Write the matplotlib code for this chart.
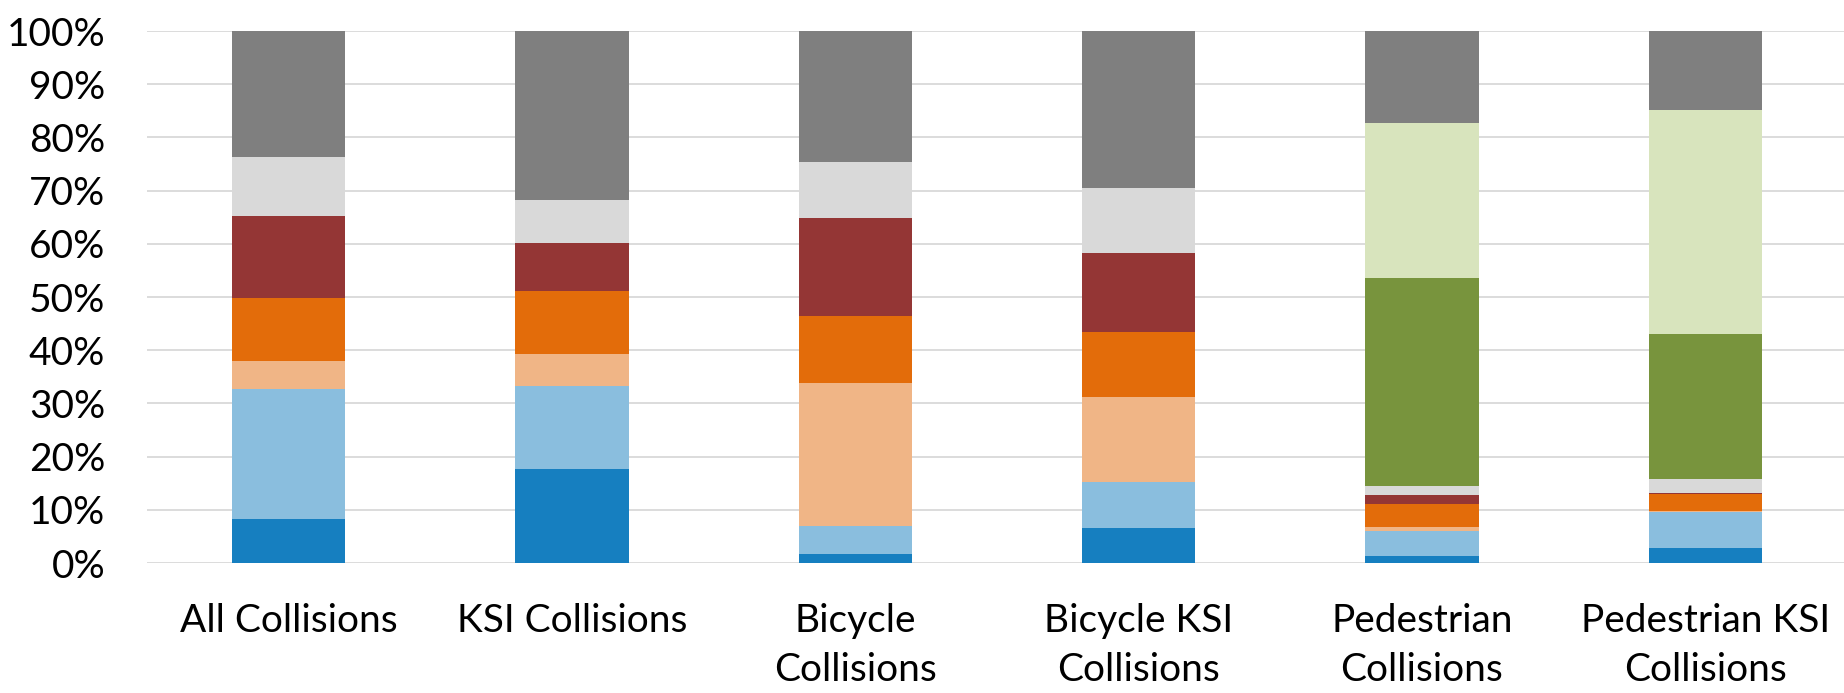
import matplotlib
matplotlib.use("Agg")
import matplotlib.pyplot as plt
import numpy as np
from matplotlib.ticker import PercentFormatter, MultipleLocator

plt.rcParams['font.family'] = ['Lato', 'DejaVu Sans']

categories = ["All Collisions", "KSI Collisions", "Bicycle\nCollisions",
              "Bicycle KSI\nCollisions", "Pedestrian\nCollisions",
              "Pedestrian KSI\nCollisions"]

# share of collisions (%) per segment, bottom to top
seg_dark_blue   = [8.3, 17.6, 1.6, 6.6, 1.4, 2.9]
seg_light_blue  = [24.5, 15.6, 5.4, 8.6, 4.7, 6.6]
seg_peach       = [5.1, 6.1, 26.9, 16.0, 0.7, 0.3]
seg_orange      = [11.9, 11.8, 12.5, 12.2, 4.3, 3.1]
seg_dark_red    = [15.5, 9.1, 18.4, 14.9, 1.6, 0.3]
seg_light_gray  = [11.0, 8.1, 10.5, 12.2, 1.8, 2.5]
seg_dark_green  = [0.0, 0.0, 0.0, 0.0, 39.1, 27.4]
seg_light_green = [0.0, 0.0, 0.0, 0.0, 29.1, 42.1]
seg_dark_gray   = [23.7, 31.7, 24.7, 29.5, 17.3, 14.8]

series = [
    (seg_dark_blue, "#167FC0"),
    (seg_light_blue, "#8ABEDE"),
    (seg_peach, "#F0B586"),
    (seg_orange, "#E36C0A"),
    (seg_dark_red, "#943635"),
    (seg_light_gray, "#D9D9D9"),
    (seg_dark_green, "#78943D"),
    (seg_light_green, "#D8E4BD"),
    (seg_dark_gray, "#7F7F7F"),
]

W, H = 1844, 693
fig = plt.figure(figsize=(W / 100, H / 100), dpi=100)
ax = fig.add_axes([146.8 / W, (H - 563) / H, (1847 - 146.8) / W, (563 - 31) / H])

x = np.arange(len(categories))
bottom = np.zeros(len(categories))
for vals, col in series:
    v = np.array(vals, dtype=float)
    ax.bar(x, v, width=0.4, bottom=bottom, color=col, zorder=3, linewidth=0)
    bottom += v

ax.set_xlim(-0.5, len(categories) - 0.5)
ax.set_ylim(0, 100)
ax.yaxis.set_major_locator(MultipleLocator(10))
ax.yaxis.set_major_formatter(PercentFormatter(decimals=0))
ax.grid(axis='y', color="#D9D9D9", linewidth=1.3, zorder=0)
ax.set_axisbelow(True)
for s in ax.spines.values():
    s.set_visible(False)
ax.set_xticks(x)
ax.set_xticklabels(categories, fontsize=28, linespacing=1.45)
ax.tick_params(axis='y', length=0, pad=30, labelsize=28)
ax.tick_params(axis='x', length=0, pad=29)

fig.savefig("out.png", dpi=100, facecolor="white")
